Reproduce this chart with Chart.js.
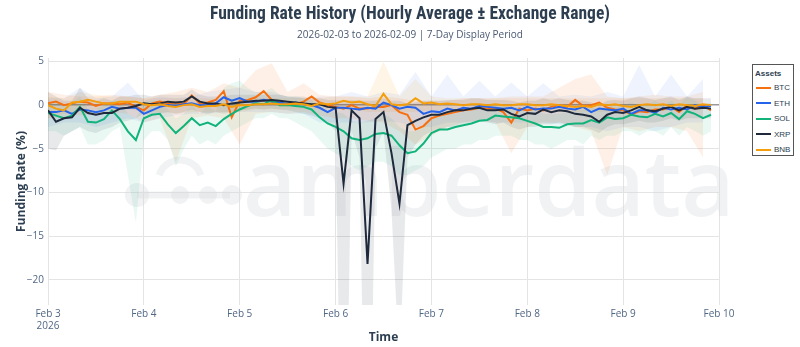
<!DOCTYPE html>
<html>
<head>
<meta charset="utf-8">
<script src="https://cdn.jsdelivr.net/npm/chart.js@4.4.1/dist/chart.umd.min.js"></script>
<style>
  body { margin: 0; background: #fff; }
  #wrap { position: relative; width: 800px; height: 347px; font-family: 'Open Sans', sans-serif; }
  #chart { position: absolute; left: 0; top: 0; }
  #title { position: absolute; left: 0; width: 820px; top: 3px; text-align: center; font-family: 'Liberation Sans Narrow', 'Roboto Condensed', 'Open Sans', sans-serif; font-weight: bold; font-size: 17.5px; color: #2c3e50; }
  #subtitle { position: absolute; left: 0; width: 820px; top: 27px; text-align: center; font-family: 'Liberation Sans Narrow', 'Open Sans', sans-serif; font-size: 10px; color: #4a5a72; }
  #legend { position: absolute; left: 752px; top: 64px; width: 40px; height: 90px; border: 1px solid #555; background: #fff; font-family: 'Liberation Sans', Arial, sans-serif; font-size: 8px; color: #2c3e50; }
  #legend .hd { font-weight: bold; margin: 4px 0 0 2px; height: 11px; }
  #legend .it { display: flex; align-items: center; height: 15.5px; }
  #legend .sw { width: 15px; height: 2px; margin: 0 3px 0 3px; }
</style>
</head>
<body>
<div id="wrap">
  <canvas id="chart" width="800" height="347"></canvas>
  <div id="title">Funding Rate History (Hourly Average ± Exchange Range)</div>
  <div id="subtitle">2026-02-03 to 2026-02-09 | 7-Day Display Period</div>
  <div id="legend"></div>
</div>
<script>
// hours since 2026-02-03 00:00, 2-hour steps
const hours = [0,2,4,6,8,10,12,14,16,18,20,22,24,26,28,30,32,34,36,38,40,42,44,46,48,50,52,54,56,58,
  60,62,64,66,68,70,72,74,76,78,80,82,84,86,88,90,92,94,96,98,100,102,104,106,108,110,112,114,116,118,
  120,122,124,126,128,130,132,134,136,138,140,142,144,146,148,150,152,154,156,158,160,162,164,166];
// coarser grid for the exchange range bands of BTC, ETH, BNB
const bandHours = [0,4,8,12,16,20,24,28,32,36,40,44,48,52,56,60,64,68,72,76,80,84,88,92,96,100,104,108,112,116,
  120,124,128,132,136,140,144,148,152,156,160,164];

const tickHours = [0,24,48,72,96,120,144,168];
const xTickLabels = [['Feb 3','2026'],'Feb 4','Feb 5','Feb 6','Feb 7','Feb 8','Feb 9','Feb 10'];
const yTickValues = [5,0,-5,-10,-15,-20];

const assets = ['BTC','ETH','SOL','XRP','BNB'];

const btcAvg = [0.2,0.4,0.0,0.2,0.4,0.3,-0.1,0.2,0.2,0.1,
  0.3,-0.2,-0.6,0.2,0.4,0.2,0.3,0.1,1.1,0.2,
  0.3,0.6,1.6,-1.4,0.5,0.6,0.9,1.6,0.6,0.2,
  0.0,0.1,0.4,1.0,0.3,0.0,-0.2,-0.4,0.0,-0.4,
  -0.4,-0.2,-0.2,0.0,-0.8,-1.1,-2.8,-2.4,-1.5,-1.2,
  -1.0,-0.8,-0.6,-0.5,-0.3,-0.4,-0.4,-0.8,-2.0,-0.4,
  -0.6,-0.4,-0.6,-0.2,0.0,-0.2,0.6,-0.1,0.0,0.3,
  -0.3,-0.5,-0.6,-1.1,-0.7,-0.8,-0.5,-0.5,-0.2,-0.8,
  0.0,-0.4,0.0,-0.6];
const ethAvg = [-0.8,-0.8,-0.6,-1.0,-0.5,-0.6,-0.8,-0.6,-0.2,-0.4,
  -0.3,-0.3,-1.0,-0.6,-0.2,0.0,-0.1,0.1,0.2,0.0,
  0.0,0.2,0.9,0.5,0.8,0.4,0.4,0.6,0.4,0.3,
  0.1,0.3,0.1,0.0,-0.3,-0.8,-0.3,-0.3,-0.4,-0.5,
  -0.3,-0.4,0.3,0.0,-0.4,-0.2,-0.3,-1.0,-0.7,-0.8,
  -0.4,-0.6,-0.3,-0.4,-0.1,-0.2,-0.3,-0.4,-0.3,-0.6,
  -0.2,-0.5,-0.4,-0.4,-0.2,-0.4,-0.5,-0.2,-0.8,-0.4,
  -0.5,-0.6,-0.4,-1.0,-0.6,-0.6,-0.9,-0.3,-0.5,-0.3,
  -0.5,0.0,-0.2,-0.1];
const solAvg = [-0.9,-1.2,-1.5,-1.2,-0.2,-1.9,-2.0,-1.6,-0.6,-1.6,
  -3.0,-4.0,-1.5,-1.1,-1.0,-2.2,-3.2,-2.4,-1.5,-2.3,
  -2.0,-2.4,-1.6,-1.0,-0.5,-0.1,0.2,0.1,0.6,0.0,
  0.0,-0.1,-0.2,-0.5,-1.4,-2.1,-2.5,-3.0,-3.8,-4.0,
  -3.8,-3.3,-3.2,-3.5,-4.6,-5.5,-5.3,-4.4,-3.2,-2.8,
  -2.8,-2.5,-2.3,-2.1,-1.8,-1.7,-1.2,-1.3,-1.4,-1.5,
  -1.8,-2.1,-2.5,-2.5,-2.6,-2.2,-2.1,-2.1,-1.7,-2.0,
  -1.4,-1.6,-1.5,-1.1,-1.3,-1.4,-1.0,-1.3,-0.9,-1.6,
  -0.7,-1.0,-1.5,-1.1];
const xrpAvg = [-0.6,-1.9,-1.5,-1.4,-0.3,-0.9,-1.1,-0.9,-0.9,-0.4,
  -0.3,-0.1,0.2,0.1,0.2,0.4,0.3,0.4,1.0,0.4,
  0.2,0.2,0.0,0.2,0.3,0.4,0.5,0.5,0.6,0.5,
  0.4,0.3,0.2,0.1,0.1,-0.2,-0.3,-9.0,-0.6,-1.5,
  -18.2,-1.6,-0.8,-5.5,-11.3,-2.3,-1.8,-1.4,-1.1,-1.1,
  -0.8,-0.6,-0.6,-0.4,-0.3,-0.6,-0.6,-0.5,-1.0,-1.3,
  -0.9,-1.0,-0.5,-0.8,-0.6,-0.7,-1.0,-1.1,-1.3,-1.9,
  -1.1,-0.8,-0.9,-0.6,-0.2,-0.6,-0.7,-0.4,-0.2,-0.6,
  -0.2,-0.4,-0.3,-0.4];
const bnbAvg = [0.0,-0.4,-0.6,0.3,0.4,0.6,0.4,0.2,0.2,0.4,
  0.4,0.4,0.1,0.0,0.1,-0.1,-0.2,0.0,0.1,-0.2,
  -0.1,-0.1,0.1,-0.2,0.0,0.0,0.1,0.1,0.2,0.1,
  0.1,0.2,0.1,-0.1,0.2,0.1,0.2,0.5,0.3,0.4,
  0.1,-0.1,1.3,0.1,0.0,0.1,0.8,0.2,0.3,0.1,
  0.2,0.1,0.0,0.1,0.1,0.0,0.1,0.0,0.0,0.1,
  0.1,0.0,0.0,0.1,0.0,-0.1,-0.2,-0.1,-0.2,0.1,
  0.0,0.1,-0.1,-0.2,0.0,0.1,0.0,0.1,-0.1,0.1,
  0.0,-0.1,0.1,0.0];

// exchange range (min / max across exchanges)
const btcLow = [-1.5,-1.0,-1.2,-1.0,-0.8,-1.0,-2.0,-1.5,-6.5,-1.5,
  -1.2,-1.5,-4.5,-1.0,-0.8,-1.0,-0.8,-1.2,-1.5,-1.5,
  -1.8,-2.0,-3.0,-4.5,-3.5,-2.5,-2.0,-1.8,-2.0,-5.5,
  -2.5,-2.0,-2.0,-2.5,-3.0,-8.0,-2.5,-3.0,-2.5,-2.5,
  -3.0,-6.0];
const btcHigh = [1.5,1.2,1.0,1.0,1.2,1.0,0.8,1.2,1.5,2.0,
  1.5,2.5,2.0,4.0,4.8,1.5,2.5,1.2,1.0,1.0,
  0.8,1.0,0.8,0.5,0.5,0.5,0.8,0.8,0.8,1.0,
  1.0,1.0,2.0,3.0,3.5,1.0,0.8,1.0,1.2,1.0,
  1.0,1.5];
const ethLow = [-2.5,-2.0,-2.0,-2.5,-2.0,-1.5,-2.0,-1.5,-1.2,-1.0,
  -1.0,-0.8,-0.8,-0.8,-0.8,-1.0,-1.0,-2.0,-2.0,-2.0,
  -2.0,-1.8,-2.0,-2.5,-2.5,-2.0,-2.0,-1.8,-2.0,-2.0,
  -2.0,-2.0,-2.2,-2.5,-2.5,-3.0,-2.5,-2.5,-3.0,-2.5,
  -2.0,-2.0];
const ethHigh = [0.8,0.8,2.0,0.8,1.0,2.6,0.5,1.0,0.8,1.0,
  1.5,1.8,2.0,1.5,1.5,1.0,0.8,1.0,1.0,1.5,
  1.0,1.5,1.2,3.8,1.0,3.5,1.0,2.8,1.0,2.6,
  1.0,2.5,1.0,1.2,1.0,1.5,1.0,4.6,1.0,3.5,
  1.0,3.0];
const bnbLow = [-1.5,-1.5,-0.5,-0.5,-0.5,-0.5,-0.8,-0.8,-1.0,-0.8,
  -0.8,-0.8,-0.8,-0.5,-0.5,-0.5,-0.5,-0.5,-0.5,-0.5,
  -0.8,-0.8,-0.8,-0.8,-0.6,-0.6,-0.6,-0.6,-0.6,-0.6,
  -0.6,-0.8,-0.8,-0.8,-0.8,-0.8,-0.6,-0.6,-0.6,-0.6,
  -0.6,-0.6];
const bnbHigh = [1.0,0.8,1.5,1.2,1.0,1.0,0.8,0.8,0.8,0.8,
  0.8,0.6,0.6,0.8,0.8,0.8,0.8,0.8,1.0,1.0,
  1.0,5.0,1.0,3.0,1.0,0.8,0.8,0.8,0.8,0.8,
  0.8,0.8,0.8,0.8,0.8,0.8,0.8,0.8,0.8,0.8,
  0.8,0.8];
const solLow = [-3.0,-3.0,-3.5,-3.0,-2.5,-4.5,-4.5,-4.0,-3.0,-2.5,
  -8.0,-13.5,-4.0,-3.0,-3.0,-4.0,-7.0,-5.0,-3.5,-4.5,
  -4.0,-4.5,-3.5,-3.0,-2.5,-2.0,-1.5,-1.5,-1.0,-1.5,
  -1.5,-2.0,-2.5,-3.0,-4.0,-5.0,-5.5,-6.0,-7.0,-7.5,
  -7.0,-6.5,-6.5,-7.0,-8.0,-8.0,-7.5,-7.0,-6.0,-5.5,
  -5.0,-5.0,-4.5,-4.5,-4.0,-4.0,-3.5,-3.5,-3.5,-4.0,
  -4.0,-4.5,-4.5,-5.0,-4.5,-4.0,-4.0,-4.5,-3.5,-4.0,
  -3.5,-3.5,-3.0,-3.0,-3.5,-3.0,-3.0,-3.5,-2.5,-3.5,
  -2.5,-3.0,-3.5,-3.0];
const solHigh = [0.5,0.3,0.0,0.3,1.0,-0.5,-0.5,0.0,0.5,0.5,
  -1.0,-1.5,0.3,0.5,0.5,-0.5,-1.5,-1.0,0.0,-1.0,
  0.0,-0.8,2.0,2.5,2.8,2.0,1.5,1.5,2.0,1.2,
  1.0,1.0,0.8,0.5,0.0,-0.5,-0.8,-1.0,-1.8,-2.0,
  -1.8,-1.5,-1.0,-1.5,-2.5,-3.0,-3.0,-2.5,-1.5,-1.0,
  -1.0,-1.0,-0.8,-0.5,-0.3,-0.3,0.2,0.0,-0.2,-0.2,
  -0.5,-0.5,-1.0,-1.0,-1.0,-0.8,-0.5,-0.5,-0.3,-0.5,
  0.0,-0.2,0.0,0.3,0.0,0.0,0.5,0.0,0.5,0.0,
  1.0,0.5,0.0,0.3];
const xrpLow = [-5.0,-5.2,-3.5,-3.0,-2.5,-3.0,-3.2,-2.8,-2.5,-2.0,
  -1.8,-1.5,-1.0,-1.2,-1.0,-0.8,-1.0,-0.8,-0.5,-0.8,
  -1.0,-0.8,-1.0,-0.8,-0.6,-0.5,-0.4,-0.5,-0.4,-0.5,
  -0.6,-0.8,-1.0,-1.2,-1.5,-2.0,-3.0,-60,-3.0,-6.0,
  -60,-5.0,-3.0,-12,-30,-6.0,-4.5,-3.5,-3.0,-2.8,
  -2.5,-2.5,-2.2,-2.0,-1.8,-2.0,-2.2,-2.0,-2.5,-2.8,
  -2.5,-2.5,-2.2,-2.2,-2.0,-2.2,-2.5,-2.5,-2.8,-3.2,
  -2.5,-2.2,-2.2,-2.0,-1.8,-2.0,-2.0,-1.8,-1.5,-1.8,
  -1.5,-1.5,-1.5,-1.5];
const xrpHigh = [1.5,1.0,0.5,0.5,2.0,0.8,0.5,0.8,0.5,1.0,
  1.0,1.2,1.2,1.0,1.2,1.2,1.2,1.2,1.8,1.2,
  1.0,1.0,1.0,1.2,1.2,1.2,1.2,1.2,1.2,1.2,
  1.0,1.0,1.0,0.8,0.8,0.6,0.6,0.5,0.6,0.5,
  0.5,0.5,0.8,0.5,0.5,0.2,0.3,0.5,0.5,0.5,
  0.6,0.6,0.6,0.8,0.8,0.6,0.6,0.6,0.5,0.3,
  0.5,0.5,0.8,0.6,0.8,0.6,0.5,0.5,0.3,0.0,
  0.5,0.6,0.5,0.8,1.0,0.8,0.6,0.8,1.0,0.6,
  1.0,0.8,0.8,0.8];

const colors = { BTC: '#f7700f', ETH: '#2563eb', SOL: '#10b37a', XRP: '#1e293b', BNB: '#f59e0b' };
const bandColors = {
  BTC: 'rgba(247,112,15,0.10)', ETH: 'rgba(37,99,235,0.08)', SOL: 'rgba(16,179,122,0.09)',
  XRP: 'rgba(30,41,59,0.10)', BNB: 'rgba(245,158,11,0.10)'
};

function pts(xs, ys) {
  return xs.map((x, i) => ({ x: x, y: ys[i] }));
}

const lines = [
  { name: 'BNB', data: bnbAvg, order: 0 },
  { name: 'XRP', data: xrpAvg, order: 1 },
  { name: 'SOL', data: solAvg, order: 2 },
  { name: 'ETH', data: ethAvg, order: 3 },
  { name: 'BTC', data: btcAvg, order: 4 }
];
const bands = [
  { name: 'BTC', xs: bandHours, low: btcLow, high: btcHigh },
  { name: 'ETH', xs: bandHours, low: ethLow, high: ethHigh },
  { name: 'SOL', xs: hours, low: solLow, high: solHigh },
  { name: 'XRP', xs: hours, low: xrpLow, high: xrpHigh },
  { name: 'BNB', xs: bandHours, low: bnbLow, high: bnbHigh }
];

const datasets = [];
lines.forEach(l => {
  datasets.push({
    label: l.name, data: pts(hours, l.data), borderColor: colors[l.name],
    borderWidth: 2, pointRadius: 0, tension: 0, fill: false, order: l.order
  });
});
bands.forEach((b, i) => {
  datasets.push({
    label: b.name + ' low', data: pts(b.xs, b.low), borderWidth: 0, borderColor: 'transparent',
    pointRadius: 0, tension: 0, fill: false, order: 10 + i
  });
  datasets.push({
    label: b.name + ' high', data: pts(b.xs, b.high), borderWidth: 0, borderColor: 'transparent',
    backgroundColor: bandColors[b.name], pointRadius: 0, tension: 0, fill: '-1', order: 10 + i
  });
});

// faint brand watermark behind the traces
const watermark = {
  id: 'watermark',
  beforeDatasetsDraw(chart) {
    const ctx = chart.ctx;
    ctx.save();
    ctx.fillStyle = 'rgba(215,218,222,0.35)';
    ctx.strokeStyle = 'rgba(215,218,222,0.35)';
    ctx.font = '600 92px "Open Sans"';
    ctx.textBaseline = 'alphabetic';
    ctx.fillText('amberdata', 243, 216);
    ctx.lineWidth = 7;
    ctx.beginPath();
    ctx.moveTo(137, 195); ctx.lineTo(230, 195);
    ctx.stroke();
    [[137, 195, 12], [180, 195, 9], [208, 195, 9], [232, 195, 10]].forEach(c => {
      ctx.beginPath(); ctx.arc(c[0], c[1], c[2], 0, Math.PI * 2); ctx.fill();
    });
    ctx.beginPath();
    ctx.arc(180, 182, 22, Math.PI * 1.1, Math.PI * 1.9);
    ctx.stroke();
    ctx.restore();
  }
};

new Chart(document.getElementById('chart'), {
  type: 'line',
  data: { datasets: datasets },
  plugins: [watermark],
  options: {
    responsive: false,
    animation: false,
    layout: { padding: { top: 58, right: 81, left: 0, bottom: 0 } },
    plugins: { legend: { display: false }, tooltip: { enabled: false }, title: { display: false } },
    scales: {
      x: {
        type: 'linear', min: 0, max: 168,
        afterBuildTicks: s => { s.ticks = tickHours.map(v => ({ value: v })); },
        afterFit: s => { s.height = 42; },
        ticks: {
          autoSkip: false, maxRotation: 0, padding: 3,
          color: '#506784', font: { family: 'Open Sans', size: 10 },
          callback: v => xTickLabels[tickHours.indexOf(v)]
        },
        grid: { color: '#e4e4e4', drawTicks: false },
        border: { display: false },
        title: { display: true, text: 'Time', color: '#2c3e50', font: { family: 'Open Sans', size: 12, weight: 'bold' }, padding: { top: 0, bottom: 2 } }
      },
      y: {
        min: -22.9, max: 5.4,
        afterBuildTicks: s => { s.ticks = yTickValues.map(v => ({ value: v })); },
        afterFit: s => { s.width = 48; },
        ticks: {
          padding: 4, color: '#506784', font: { family: 'Open Sans', size: 10 },
          callback: v => v < 0 ? '\u2212' + Math.abs(v) : String(v)
        },
        grid: {
          drawTicks: false,
          color: c => c.tick && c.tick.value === 0 ? '#9a9a9a' : '#e4e4e4',
          lineWidth: c => c.tick && c.tick.value === 0 ? 1.5 : 1
        },
        border: { display: false },
        title: { display: true, text: 'Funding Rate (%)', color: '#2c3e50', font: { family: 'Open Sans', size: 12, weight: 'bold' }, padding: { top: 14, bottom: 0 } }
      }
    }
  }
});

// legend box
const legend = document.getElementById('legend');
legend.innerHTML = '<div class="hd">Assets</div>' + assets.map(a =>
  '<div class="it"><span class="sw" style="background:' + colors[a] + '"></span>' + a + '</div>'
).join('');
</script>
</body>
</html>
